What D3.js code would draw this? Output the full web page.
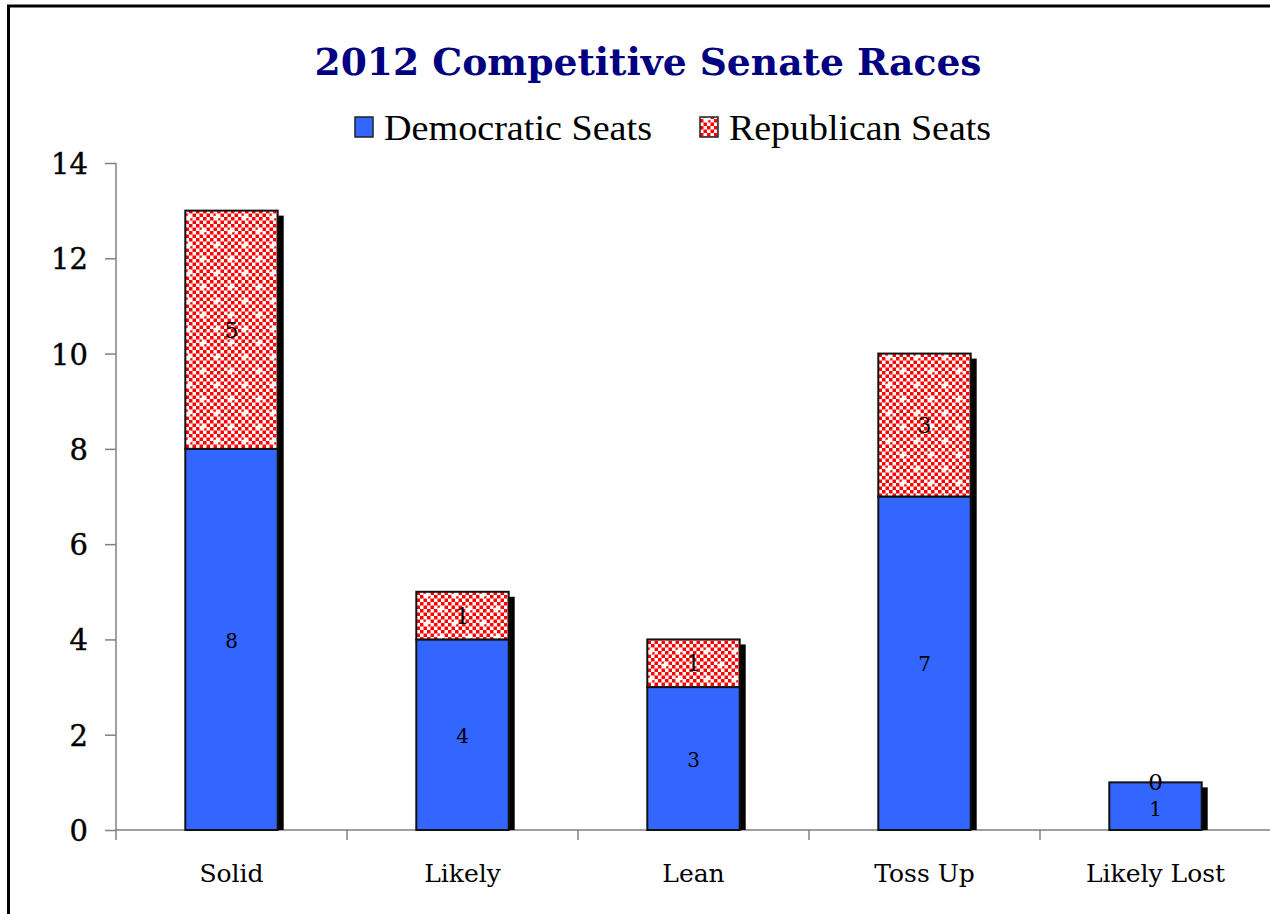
<!DOCTYPE html>
<html>
<head>
<meta charset="utf-8">
<script src="https://cdn.jsdelivr.net/npm/d3@7"></script>
<style>
  body { margin: 0; background: #fff; }
  svg { display: block; }
</style>
</head>
<body>
<div id="graph"></div>
<script>
const categories = ["Solid", "Likely", "Lean", "Toss Up", "Likely Lost"]
const demSeats = [8, 4, 3, 7, 1]
const repSeats = [5, 1, 1, 3, 0]
const yTicks = [0, 2, 4, 6, 8, 10, 12, 14]
const seriesNames = ["Democratic Seats", "Republican Seats"]

const W = 1270, H = 914
const blue = "#3366ff", red = "#ff0000"

const svg = d3.select("#graph")
    .append("svg")
    .attr("width", W)
    .attr("height", H)

// checkered fill for republican bars
const defs = svg.append("defs")
const pat = defs.append("pattern")
    .attr("id", "checks")
    .attr("patternUnits", "userSpaceOnUse")
    .attr("width", 28)
    .attr("height", 28)
pat.append("rect").attr("width", 28).attr("height", 28).attr("fill", "#fff")
for (let i = 0; i < 8; i++) {
    for (let j = 0; j < 8; j++) {
        if ((i + j) % 2 == 0) {
            pat.append("rect").attr("x", i * 3.5).attr("y", j * 3.5)
                .attr("width", 3.5).attr("height", 3.5).attr("fill", red)
        }
    }
}
// little white crosses in the pattern
;[[7, 7], [21, 21]].forEach(p => {
    pat.append("rect").attr("x", p[0] - 3.5).attr("y", p[1] - 1.2).attr("width", 7).attr("height", 2.4).attr("fill", "#fff")
    pat.append("rect").attr("x", p[0] - 1.2).attr("y", p[1] - 3.5).attr("width", 2.4).attr("height", 7).attr("fill", "#fff")
})

// outer frame
svg.append("rect")
    .attr("x", 8.5).attr("y", 6)
    .attr("width", 1400).attr("height", 1000)
    .attr("fill", "none")
    .attr("stroke", "#000")
    .attr("stroke-width", 3)

const x = d3.scaleBand()
    .domain(categories)
    .range([116, 1271])
    .paddingInner(0.6)
    .paddingOuter(0.3)

const y = d3.scaleLinear()
    .domain([0, 14])
    .range([830, 163])

const step = x.step()
const gap = (step - x.bandwidth()) / 2

// title
svg.append("text")
    .attr("x", 648)
    .attr("y", 75)
    .attr("text-anchor", "middle")
    .attr("font-family", "DejaVu Serif")
    .attr("font-weight", "bold")
    .attr("font-size", 38)
    .attr("fill", "#000080")
    .attr("textLength", 667)
    .attr("lengthAdjust", "spacingAndGlyphs")
    .text("2012 Competitive Senate Races")

// legend
const legend = svg.append("g")
const legX = [355, 700]
seriesNames.forEach((name, i) => {
    legend.append("rect")
        .attr("x", legX[i]).attr("y", 117)
        .attr("width", 18).attr("height", 20)
        .attr("fill", i == 0 ? blue : "url(#checks)")
        .attr("stroke", "#222")
        .attr("stroke-width", 1.5)
    legend.append("text")
        .attr("x", legX[i] + 29)
        .attr("y", 140)
        .attr("font-family", "Liberation Serif")
        .attr("font-size", 36)
        .attr("textLength", i == 0 ? 268 : 262)
        .attr("lengthAdjust", "spacingAndGlyphs")
        .text(name)
})

// y axis
const yAxis = d3.axisLeft(y)
    .tickValues(yTicks)
    .tickSize(11)
    .tickPadding(17)
    .tickFormat(d3.format("d"))

const gy = svg.append("g")
    .attr("transform", "translate(116,0)")
    .call(yAxis)
gy.select(".domain").attr("stroke", "#808080").attr("stroke-width", 1.5)
    .attr("d", "M0," + y(14) + "V" + (y(0) + 10))
gy.selectAll(".tick line").attr("stroke", "#808080").attr("stroke-width", 1.5)
gy.selectAll(".tick text")
    .attr("font-family", "DejaVu Serif")
    .attr("font-size", 29)
    .attr("fill", "#000")
    .attr("stroke", "#000")
    .attr("stroke-width", 0.4)
    .attr("dy", "0.36em")

// x axis
const xAxis = d3.axisBottom(x)
    .tickSize(0)
    .tickPadding(34)

const gx = svg.append("g")
    .attr("transform", "translate(0," + y(0) + ")")
    .call(xAxis)
gx.select(".domain").attr("stroke", "#808080").attr("stroke-width", 1.5)
    .attr("d", "M116,0H1271")
gx.selectAll(".tick text")
    .attr("font-family", "DejaVu Serif")
    .attr("font-size", 25)
    .attr("fill", "#000")
    .attr("dy", "0.71em")
// boundary ticks between categories
gx.selectAll(".bound")
    .data(categories.slice(1))
    .enter()
    .append("line")
    .attr("x1", d => x(d) - gap)
    .attr("x2", d => x(d) - gap)
    .attr("y1", 0)
    .attr("y2", 10)
    .attr("stroke", "#808080")
    .attr("stroke-width", 1.5)

const bars = svg.append("g")

// shadows
bars.selectAll(".shadow")
    .data(categories)
    .enter()
    .append("rect")
    .attr("x", d => x(d) + 6)
    .attr("y", (d, i) => y(demSeats[i] + repSeats[i]) + 5)
    .attr("width", x.bandwidth())
    .attr("height", (d, i) => y(0) - y(demSeats[i] + repSeats[i]) - 5)
    .attr("fill", "#000")

// democratic
bars.selectAll(".dem")
    .data(categories)
    .enter()
    .append("rect")
    .attr("x", d => x(d))
    .attr("y", (d, i) => y(demSeats[i]))
    .attr("width", x.bandwidth())
    .attr("height", (d, i) => y(0) - y(demSeats[i]))
    .attr("fill", blue)
    .attr("stroke", "#111")
    .attr("stroke-width", 2)

// republican
bars.selectAll(".rep")
    .data(categories.filter((d, i) => repSeats[i] > 0))
    .enter()
    .append("rect")
    .attr("x", d => x(d))
    .attr("y", d => { const i = categories.indexOf(d); return y(demSeats[i] + repSeats[i]) })
    .attr("width", x.bandwidth())
    .attr("height", d => { const i = categories.indexOf(d); return y(demSeats[i]) - y(demSeats[i] + repSeats[i]) })
    .attr("fill", "url(#checks)")
    .attr("stroke", "#111")
    .attr("stroke-width", 2)

// value labels
const labelStyle = sel => sel
    .attr("text-anchor", "middle")
    .attr("dy", "0.36em")
    .attr("font-family", "DejaVu Serif")
    .attr("font-size", 20)
    .attr("fill", "#000")

bars.selectAll(".demlab")
    .data(categories)
    .enter()
    .append("text")
    .attr("x", d => x(d) + x.bandwidth() / 2)
    .attr("y", (d, i) => (y(0) + y(demSeats[i])) / 2 + (repSeats[i] == 0 ? 3 : 1))
    .call(labelStyle)
    .text((d, i) => demSeats[i])

bars.selectAll(".replab")
    .data(categories)
    .enter()
    .append("text")
    .attr("x", d => x(d) + x.bandwidth() / 2)
    .attr("y", (d, i) => (y(demSeats[i]) + y(demSeats[i] + repSeats[i])) / 2 + (repSeats[i] == 0 ? -1 : 0))
    .call(labelStyle)
    .attr("font-size", (d, i) => repSeats[i] == 0 ? 23 : 22)
    .text((d, i) => repSeats[i])
</script>
</body>
</html>
